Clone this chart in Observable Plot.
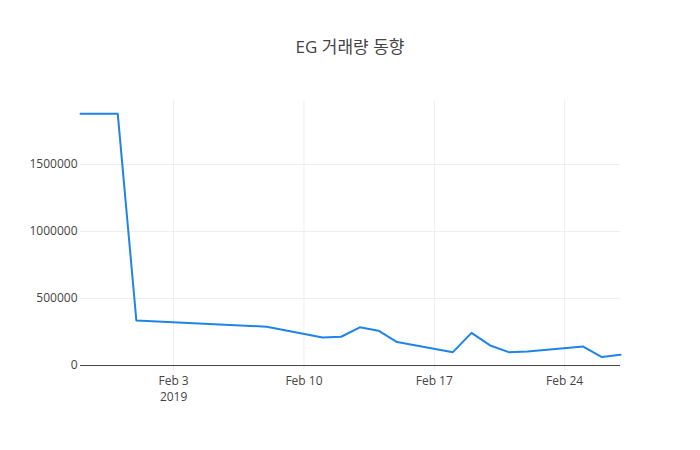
<!DOCTYPE html>
<html>
<head>
<meta charset="utf-8">
<script src="https://cdn.jsdelivr.net/npm/d3@7"></script>
<script src="https://cdn.jsdelivr.net/npm/@observablehq/plot@0.6"></script>
<style>
  html, body { margin: 0; padding: 0; background: #fff; }
  #wrap { position: relative; width: 700px; height: 450px; font-family: "Open Sans", "Noto Sans CJK KR", sans-serif; }
  #title { position: absolute; left: 0; width: 700px; top: 33px; text-align: center; font-size: 17px; color: #444; font-family: "Open Sans", "Noto Sans CJK KR", sans-serif; }
  #chart { position: absolute; left: 0; top: 0; }
</style>
</head>
<body>
<div id="wrap">
  <div id="chart"></div>
  <div id="title">EG 거래량 동향</div>
</div>
<script>
const dates = ["2019-01-29","2019-01-31","2019-02-01","2019-02-08","2019-02-11","2019-02-12","2019-02-13","2019-02-14","2019-02-15","2019-02-18","2019-02-19","2019-02-20","2019-02-21","2019-02-22","2019-02-25","2019-02-26","2019-02-27"];
const volumes = [1880000,1880000,336000,290000,210000,215000,285000,260000,175000,100000,244000,150000,100000,105000,142000,63000,80000];
const yTicks = [0, 500000, 1000000, 1500000];
const xTicks = ["2019-02-03","2019-02-10","2019-02-17","2019-02-24"];
const xTickLabels = ["Feb 3","Feb 10","Feb 17","Feb 24"];
const yearLabel = {date: "2019-02-03", text: "2019"};

const parse = d3.utcParse("%Y-%m-%d");
const data = dates.map((d, i) => ({date: parse(d), volume: volumes[i]}));
const xTickDates = xTicks.map(parse);

const chart = Plot.plot({
  width: 700,
  height: 450,
  marginLeft: 80,
  marginRight: 80,
  marginTop: 100,
  marginBottom: 80,
  style: {fontFamily: '"Open Sans", "Noto Sans CJK KR", sans-serif', fontSize: "12px", color: "#444", background: "#fff"},
  x: {type: "utc", domain: [parse("2019-01-29"), parse("2019-02-27")]},
  y: {domain: [-37000, 1978000]},
  marks: [
    Plot.gridX(xTickDates, {stroke: "#eee", strokeOpacity: 1, strokeWidth: 1}),
    Plot.gridY(yTicks.filter(d => d !== 0), {stroke: "#eee", strokeOpacity: 1, strokeWidth: 1}),
    Plot.ruleY([0], {stroke: "#444", strokeWidth: 1}),
    Plot.line(data, {x: "date", y: "volume", stroke: "#1f84e8", strokeWidth: 2, strokeLinejoin: "round"}),
    Plot.axisY(yTicks, {tickSize: 0, tickPadding: 3, label: null, tickFormat: d => String(d), fill: "#444", fontSize: 12}),
    Plot.axisX(xTickDates, {tickSize: 0, tickPadding: 6, label: null, tickFormat: (d, i) => xTickLabels[i], fill: "#444", fontSize: 12}),
    Plot.text([yearLabel], {x: d => parse(d.date), text: "text", frameAnchor: "bottom", dy: 30, fill: "#444", fontSize: 12})
  ]
});
document.getElementById("chart").appendChild(chart);
</script>
</body>
</html>
